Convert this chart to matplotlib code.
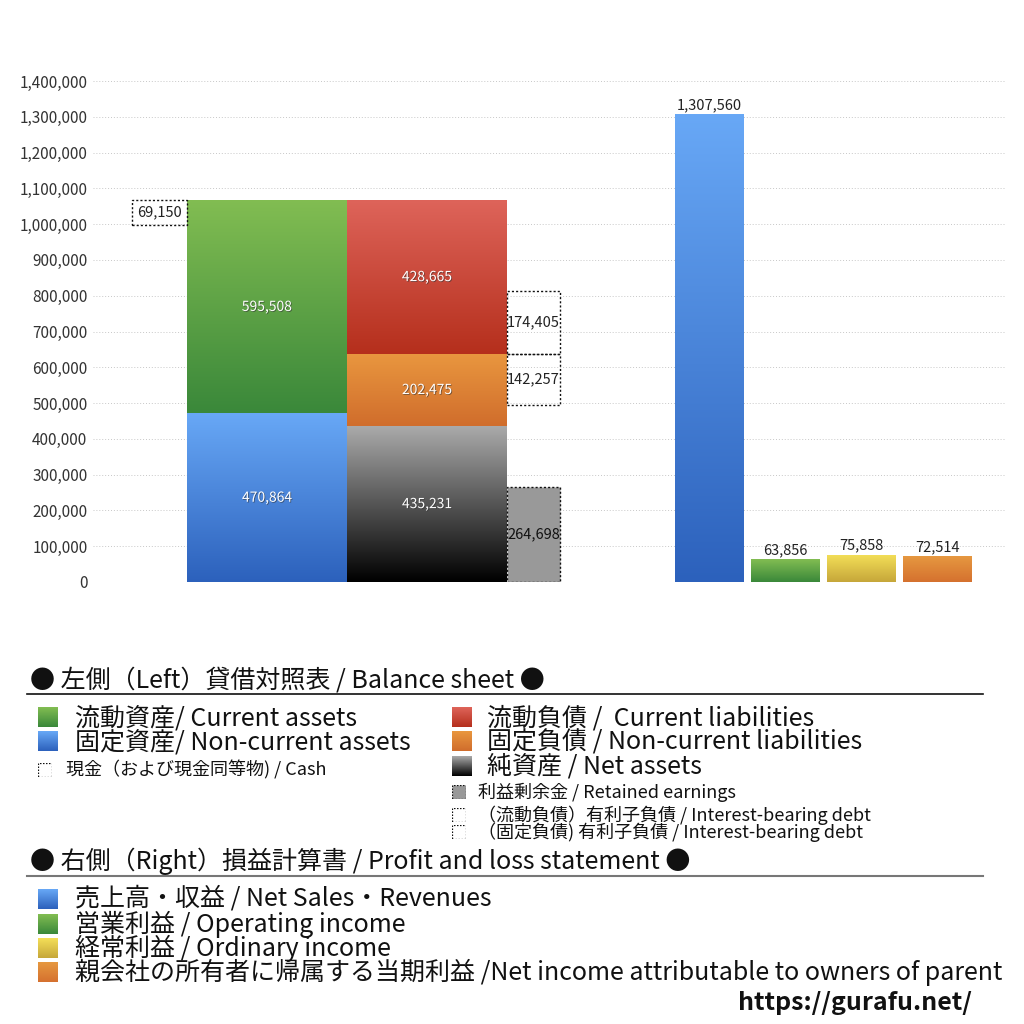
import matplotlib.pyplot as plt
import matplotlib.patheffects as pe
import numpy as np
from matplotlib.colors import LinearSegmentedColormap

plt.rcParams['font.family'] = ['Noto Sans CJK JP', 'DejaVu Sans']

# 貸借対照表 (Balance sheet)
current_assets = 595508
noncurrent_assets = 470864
cash = 69150
current_liab = 428665
noncurrent_liab = 202475
net_assets = 435231
retained = 264698
debt_current = 174405
debt_noncurrent = 142257

# 損益計算書 (P/L)
pl_names = ['売上高', '営業利益', '経常利益', '当期利益']
pl_values = [1307560, 63856, 75858, 72514]

yticks = list(range(0, 1400001, 100000))

GRAD = {
    'green': ('#82bd52', '#3a883a'),
    'blue': ('#68a8f6', '#2c61bc'),
    'red': ('#de645a', '#b52f1c'),
    'orange': ('#e9973f', '#d06d2c'),
    'black': ('#aaaaaa', '#000000'),
    'yellow': ('#f4df58', '#c6a73a'),
    'orange2': ('#e69840', '#d5712f'),
}

fig = plt.figure(figsize=(10.24, 10.24), dpi=100)
ax = fig.add_axes([93/1024, 1-582/1024, (1005-93)/1024, (582-81)/1024])
ax.set_xlim(93, 1005)
ax.set_ylim(0, 1400000)


def grad_bar(x, h, w, bottom, key):
    top, bot = GRAD[key]
    cmap = LinearSegmentedColormap.from_list(key, [bot, top])
    p = ax.bar(x, h, w, bottom=bottom, color='none', linewidth=0)[0]
    img = ax.imshow(np.linspace(0, 1, 256).reshape(-1, 1), cmap=cmap, origin='lower',
                    extent=[x - w/2, x + w/2, bottom, bottom + h], aspect='auto', zorder=2)
    img.set_clip_path(p)
    return p


def dash_box(x, h, w, bottom, fc='none'):
    ax.bar(x, h, w, bottom=bottom, facecolor=fc, edgecolor='#111111',
           linestyle=(0, (1.5, 1.5)), linewidth=1.0, zorder=3)


def inner_label(x, y, v, color='white'):
    t = ax.text(x, y, f'{v:,}', ha='center', va='center', fontsize=10, color=color, zorder=5)
    t.set_path_effects([pe.SimplePatchShadow(offset=(0.6, -0.6), shadow_rgbFace='#333333', alpha=0.6),
                        pe.Normal()])


# left: assets
xa, xl, xd, xc = 267, 427, 533.5, 159.5
wa, wd, wc = 160, 53, 55
grad_bar(xa, noncurrent_assets, wa, 0, 'blue')
grad_bar(xa, current_assets, wa, noncurrent_assets, 'green')
total_assets = current_assets + noncurrent_assets
dash_box(xc, cash, wc, total_assets - cash)
inner_label(xa, noncurrent_assets/2, noncurrent_assets)
inner_label(xa, noncurrent_assets + current_assets/2, current_assets)
ax.text(xc, total_assets - cash/2, f'{cash:,}', ha='center', va='center', fontsize=10.5, color='#222222', zorder=5)

# liabilities + net assets
grad_bar(xl, net_assets, wa, 0, 'black')
grad_bar(xl, noncurrent_liab, wa, net_assets, 'orange')
grad_bar(xl, current_liab, wa, net_assets + noncurrent_liab, 'red')
inner_label(xl, net_assets/2, net_assets)
inner_label(xl, net_assets + noncurrent_liab/2, noncurrent_liab)
inner_label(xl, net_assets + noncurrent_liab + current_liab/2, current_liab)

# retained earnings and interest-bearing debt
dash_box(xd, retained, wd, 0, fc='#999999')
ax.text(xd, retained/2, f'{retained:,}', ha='center', va='center', fontsize=10.5, color='#111111', zorder=5)
liab_base = net_assets + noncurrent_liab
dash_box(xd, debt_noncurrent, wd, liab_base - debt_noncurrent)
dash_box(xd, debt_current, wd, liab_base)
ax.text(xd, liab_base - debt_noncurrent/2, f'{debt_noncurrent:,}', ha='center', va='center', fontsize=10.5, color='#222222', zorder=5)
ax.text(xd, liab_base + debt_current/2, f'{debt_current:,}', ha='center', va='center', fontsize=10.5, color='#222222', zorder=5)

# right: P/L
pl_x = [709.5, 785.5, 861.5, 937.5]
pl_keys = ['blue', 'green', 'yellow', 'orange2']
for x, v, k in zip(pl_x, pl_values, pl_keys):
    grad_bar(x, v, 69, 0, k)
    ax.text(x, v + 6000, f'{v:,}', ha='center', va='bottom', fontsize=10.5, color='#222222', zorder=5)

ax.set_yticks(yticks)
ax.set_yticklabels([f'{t:,}' for t in yticks], fontsize=11, color='#333333')
ax.set_xticks([])
ax.tick_params(axis='y', length=0, pad=4)
for s in ax.spines.values():
    s.set_visible(False)
ax.grid(axis='y', linestyle=(0, (1, 2)), linewidth=0.7, color='#c8c8c8', zorder=0)
ax.set_axisbelow(True)


# ---- legend area (figure pixels) ----
def ftext(x, y, s, size, color='#111111', **kw):
    fig.text(x/1024, 1 - y/1024, s, fontsize=size, color=color, va='center', ha='left', **kw)


def swatch(x, y, key=None, size=20, dashed=False, fc=None):
    ax_s = fig.add_axes([x/1024, 1 - (y + size/2)/1024, size/1024, size/1024])
    ax_s.set_xlim(0, 1)
    ax_s.set_ylim(0, 1)
    ax_s.axis('off')
    if key:
        top, bot = GRAD[key]
        cmap = LinearSegmentedColormap.from_list(key, [bot, top])
        ax_s.imshow(np.linspace(0, 1, 64).reshape(-1, 1), cmap=cmap, origin='lower',
                    extent=[0, 1, 0, 1], aspect='auto')
    if dashed:
        ax_s.add_patch(plt.Rectangle((0.02, 0.02), 0.96, 0.96, facecolor=fc or 'none',
                                     edgecolor='#111111', linestyle=(0, (1.2, 1.2)), linewidth=0.9))


BIG = 18
SMALL = 13

ftext(30, 680, '● 左側（Left）貸借対照表 / Balance sheet ●', BIG)
fig.add_artist(plt.Line2D([27/1024, 983/1024], [1-694/1024, 1-694/1024], color='#111111', linewidth=1.2))

ftext(75, 718, '流動資産/ Current assets', BIG)
ftext(75, 742, '固定資産/ Non-current assets', BIG)
ftext(66, 770, '現金（および現金同等物) / Cash', SMALL)
swatch(38, 717, 'green')
swatch(38, 741, 'blue')
swatch(38, 770, size=14, dashed=True)

ftext(487, 718, '流動負債 /  Current liabilities', BIG)
ftext(487, 742, '固定負債 / Non-current liabilities', BIG)
ftext(487, 766, '純資産 / Net assets', BIG)
ftext(478, 792, '利益剰余金 / Retained earnings', SMALL)
ftext(478, 815, '（流動負債）有利子負債 / Interest-bearing debt', SMALL)
ftext(478, 832, '（固定負債) 有利子負債 / Interest-bearing debt', SMALL)
swatch(452, 717, 'red')
swatch(452, 741, 'orange')
swatch(452, 766, 'black')
swatch(452, 792, size=14, dashed=True, fc='#999999')
swatch(452, 815, size=14, dashed=True)
swatch(452, 832, size=14, dashed=True)

ftext(30, 861, '● 右側（Right）損益計算書 / Profit and loss statement ●', BIG)
fig.add_artist(plt.Line2D([27/1024, 983/1024], [1-876/1024, 1-876/1024], color='#777777', linewidth=1.5))

ftext(75, 899, '売上高・収益 / Net Sales・Revenues', BIG)
ftext(75, 924, '営業利益 / Operating income', BIG)
ftext(75, 948, '経常利益 / Ordinary income', BIG)
ftext(75, 972, '親会社の所有者に帰属する当期利益 /Net income attributable to owners of parent', BIG)
swatch(38, 899, 'blue')
swatch(38, 924, 'green')
swatch(38, 948, 'yellow')
swatch(38, 972, 'orange2')

fig.text(972/1024, 1 - 1003/1024, 'https://gurafu.net/', fontsize=18, fontweight='bold',
         ha='right', va='center', color='#111111')

fig.savefig('out.png', dpi=100, facecolor='white')
